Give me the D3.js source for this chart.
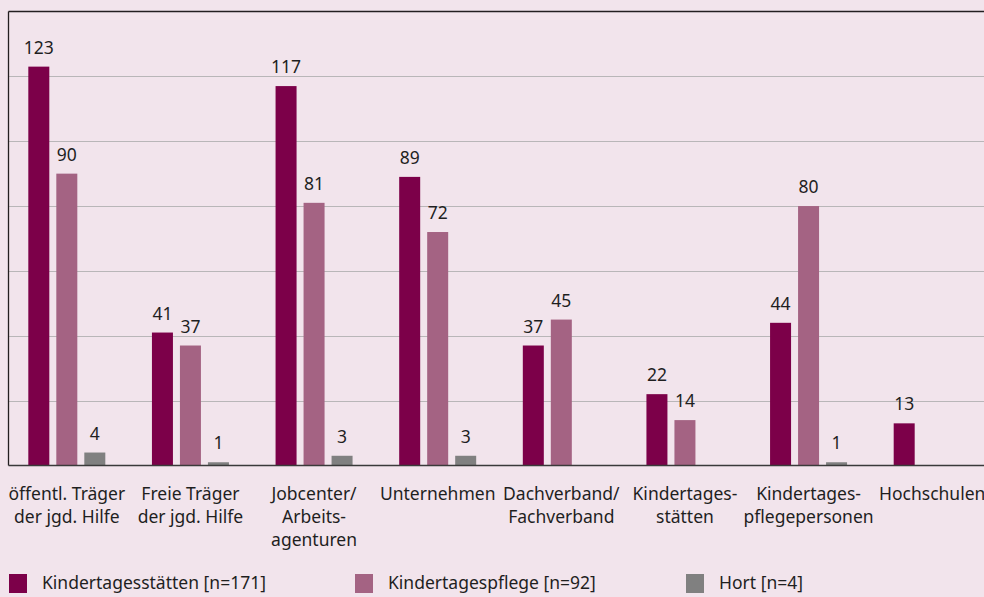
<!DOCTYPE html>
<html>
<head>
<meta charset="utf-8">
<script src="https://cdn.jsdelivr.net/npm/d3@7"></script>
<style>
  html, body { margin: 0; padding: 0; background: #f2e4ec; }
  svg { display: block; font-family: "Noto Sans", "Open Sans", sans-serif; }
</style>
</head>
<body>
<div id="chart"></div>
<script>
// Kategorien (mehrzeilige Beschriftung)
const categories = [
    ["öffentl. Träger", "der jgd. Hilfe"],
    ["Freie Träger", "der jgd. Hilfe"],
    ["Jobcenter/", "Arbeits-", "agenturen"],
    ["Unternehmen"],
    ["Dachverband/", "Fachverband"],
    ["Kindertages-", "stätten"],
    ["Kindertages-", "pflegepersonen"],
    ["Hochschulen"]
];

const seriesNames = ["Kindertagesstätten [n=171]", "Kindertagespflege [n=92]", "Hort [n=4]"];
const kitaValues = [123, 41, 117, 89, 37, 22, 44, 13];
const pflegeValues = [90, 37, 81, 72, 45, 14, 80, null];
const hortValues = [4, 1, 3, 3, null, null, 1, null];
const yTicks = [0, 20, 40, 60, 80, 100, 120, 140];

const colors = ["#7c0049", "#a46383", "#808080"];

const W = 984, H = 597;
const plotLeft = 8.5, plotTop = 11.5, plotBottom = 465.5;
const fontSize = "17.5px";

const svg = d3.select("#chart").append("svg")
    .attr("width", W)
    .attr("height", H);

const series = [kitaValues, pflegeValues, hortValues];
const catIdx = categories.map((d, i) => i);

const x0 = d3.scaleBand()
    .domain(catIdx)
    .range([5, 994])
    .padding(0);

const x1 = d3.scaleBand()
    .domain([0, 1, 2])
    .range([-38.5, 38.5])
    .paddingInner(0.25)
    .paddingOuter(0);

const y = d3.scaleLinear()
    .domain([0, 140])
    .range([plotBottom, plotTop]);

// Gitterlinien
svg.append("g")
    .selectAll("line")
    .data(yTicks.filter(t => t > 0 && t < 140))
    .join("line")
    .attr("x1", plotLeft).attr("x2", W)
    .attr("y1", d => Math.round(y(d)) + 0.5).attr("y2", d => Math.round(y(d)) + 0.5)
    .attr("stroke", "#b9b6b8").attr("stroke-width", 1);

// Balken
const barData = [];
series.forEach((vals, s) => {
    vals.forEach((v, i) => {
        if (v !== null) barData.push({ s: s, i: i, v: v });
    });
});

svg.append("g")
    .selectAll("rect")
    .data(barData)
    .join("rect")
    .attr("x", d => x0(d.i) + x0.bandwidth() / 2 + x1(d.s))
    .attr("y", d => y(d.v))
    .attr("width", x1.bandwidth())
    .attr("height", d => y(0) - y(d.v))
    .attr("fill", d => colors[d.s]);

// Werte
svg.append("g")
    .selectAll("text")
    .data(barData)
    .join("text")
    .attr("x", d => x0(d.i) + x0.bandwidth() / 2 + x1(d.s) + x1.bandwidth() / 2)
    .attr("y", d => y(d.v) - 13)
    .attr("text-anchor", "middle")
    .attr("font-size", fontSize)
    .attr("fill", "#1f1f1f")
    .text(d => d.v);

// Achsenlinien
svg.append("line")
    .attr("x1", plotLeft).attr("x2", W)
    .attr("y1", plotTop).attr("y2", plotTop)
    .attr("stroke", "#231f20").attr("stroke-width", 1.3);
svg.append("line")
    .attr("x1", plotLeft).attr("x2", plotLeft)
    .attr("y1", plotTop).attr("y2", plotBottom)
    .attr("stroke", "#231f20").attr("stroke-width", 1.3);
svg.append("line")
    .attr("x1", plotLeft).attr("x2", W)
    .attr("y1", plotBottom).attr("y2", plotBottom)
    .attr("stroke", "#3a3a3a").attr("stroke-width", 1.3);

// Kategoriebeschriftungen
const catLabels = svg.append("g")
    .selectAll("text")
    .data(categories)
    .join("text")
    .attr("x", (d, i) => x0(i) + x0.bandwidth() / 2)
    .attr("y", 500)
    .attr("text-anchor", "middle")
    .attr("font-size", fontSize)
    .attr("fill", "#1f1f1f");

catLabels.each(function(lines) {
    const t = d3.select(this);
    const cx = t.attr("x");
    lines.forEach((line, k) => {
        t.append("tspan")
            .attr("x", cx)
            .attr("y", 500 + k * 23)
            .text(line);
    });
});

// Legende
const legendX = [9, 355, 686];
const legend = svg.append("g")
    .selectAll("g")
    .data(seriesNames)
    .join("g")
    .attr("transform", (d, i) => `translate(${legendX[i]},574)`);

legend.append("rect")
    .attr("width", 18).attr("height", 19)
    .attr("fill", (d, i) => colors[i]);

legend.append("text")
    .attr("x", 33).attr("y", 15)
    .attr("font-size", fontSize)
    .attr("fill", "#1f1f1f")
    .text(d => d);
</script>
</body>
</html>
